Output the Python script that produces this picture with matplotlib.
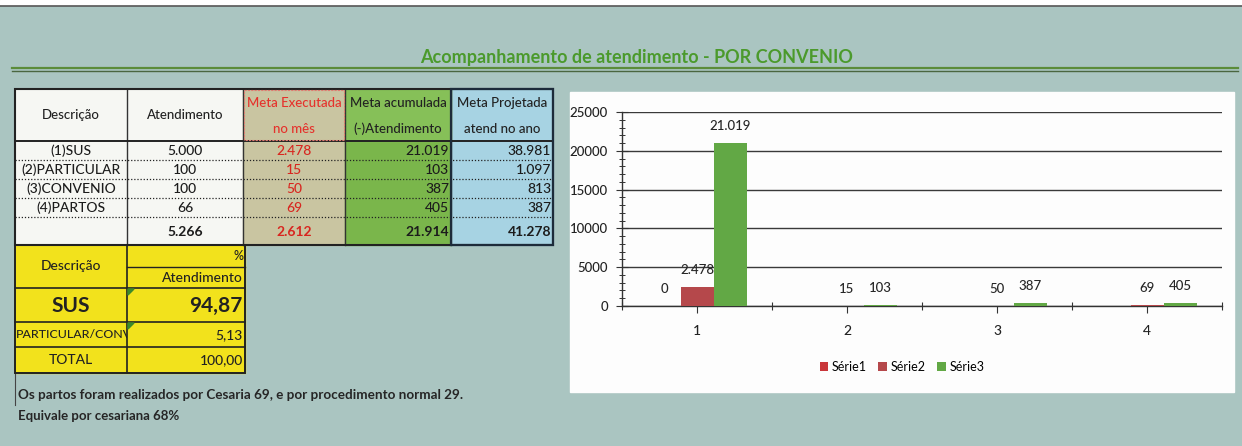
import numpy as np
import matplotlib.pyplot as plt
from matplotlib.patches import Rectangle, Polygon
from matplotlib.transforms import Bbox

plt.rcParams['font.family'] = ['Lato', 'DejaVu Sans']

# =========================================================================
# dados da planilha
titulo = 'Acompanhamento de atendimento - POR CONVENIO'

cabecalho = ['Descrição', 'Atendimento', 'Meta Executada\nno mês',
             'Meta acumulada\n(-)Atendimento', 'Meta Projetada\natend no ano']
descricao = ['(1)SUS', '(2)PARTICULAR', '(3)CONVENIO', '(4)PARTOS', '']
atendimento = ['5.000', '100', '100', '66', '5.266']
meta_executada = ['2.478', '15', '50', '69', '2.612']
meta_acumulada = ['21.019', '103', '387', '405', '21.914']
meta_projetada = ['38.981', '1.097', '813', '387', '41.278']

resumo_desc = ['SUS', 'PARTICULAR/CONV', 'TOTAL']
resumo_pct = ['94,87', '5,13', '100,00']

nota1 = 'Os partos foram realizados por Cesaria 69, e por procedimento normal 29.'
nota2 = 'Equivale por cesariana 68%'

# dados do grafico
categorias = ['1', '2', '3', '4']
serie1 = [0, np.nan, np.nan, np.nan]
serie2 = [2478, 15, 50, 69]
serie3 = [21019, 103, 387, 405]
series = {'Série1': serie1, 'Série2': serie2, 'Série3': serie3}
cores = {'Série1': '#c9363a', 'Série2': '#b5484b', 'Série3': '#62a845'}
# =========================================================================

W, H = 1242, 446
fig = plt.figure(figsize=(W / 100, H / 100), dpi=100)
fig.patch.set_facecolor('#aac5c1')

bg = fig.add_axes([0, 0, 1, 1])
bg.set_xlim(0, W)
bg.set_ylim(H, 0)
bg.axis('off')

# faixa branca do topo
bg.add_patch(Rectangle((0, 0), W, 5, color='white', zorder=1))
bg.plot([0, W], [5.5, 5.5], color='#555555', lw=1.2)

# titulo e linha dupla
bg.text(637, 58, titulo, ha='center', va='center', fontsize=13,
        fontweight='bold', color='#4b9a2c')
bg.plot([12, 1238], [68, 68], color='#5b8c3a', lw=1.6)
bg.plot([12, 1238], [71, 71], color='#4a6640', lw=1.0)

# ---------------- tabela principal ----------------
cols = [15, 127, 243, 345, 451, 553]
rows = [89, 141, 160, 179, 198, 217, 245]
fundo = ['#f6f7f3', '#f6f7f3', '#c9c5a1', '#7ab64b', '#a7d3e3']
for c in range(5):
    bg.add_patch(Rectangle((cols[c], rows[0]), cols[c + 1] - cols[c],
                           rows[-1] - rows[0], color=fundo[c], zorder=1))
bg.add_patch(Rectangle((cols[3], rows[0]), cols[4] - cols[3], rows[1] - rows[0],
                       color='#86c058', zorder=1))

# textos do cabecalho
for c, txt in enumerate(cabecalho):
    xm = (cols[c] + cols[c + 1]) / 2
    cor = '#e5322c' if c == 2 else '#222222'
    if '\n' in txt:
        l1, l2 = txt.split('\n')
        bg.text(xm, 103, l1, ha='center', va='center', fontsize=9.5, color=cor,
                fontweight='medium')
        bg.text(xm, 129, l2, ha='center', va='center', fontsize=9.5, color=cor,
                fontweight='medium')
    else:
        bg.text(xm, 115, txt, ha='center', va='center', fontsize=9.5, color=cor,
                fontweight='medium')

# linhas de dados
colunas = [descricao, atendimento, meta_executada, meta_acumulada, meta_projetada]
for r in range(5):
    ym = (rows[r + 1] + rows[r + 2]) / 2 + 0.5
    peso = 'bold' if r == 4 else 'medium'
    for c, col in enumerate(colunas):
        cor = '#d8261f' if c == 2 else '#1c1c1c'
        if c >= 3:
            bg.text(cols[c + 1] - 2, ym, col[r], ha='right', va='center',
                    fontsize=10, color=cor, fontweight=peso)
        else:
            bg.text((cols[c] + cols[c + 1]) / 2, ym, col[r], ha='center',
                    va='center', fontsize=10, color=cor, fontweight=peso)

# bordas
for yy in rows[2:-1]:
    bg.plot([cols[0], cols[-1]], [yy, yy], color='#222222', lw=0.9, ls=(0, (1, 1.5)))
for xx in cols[1:-1]:
    bg.plot([xx, xx], [rows[0], rows[-1]], color='#333333', lw=1.0)
bg.plot([cols[0], cols[-1]], [rows[1], rows[1]], color='#222222', lw=1.4)
bg.add_patch(Rectangle((cols[0], rows[0]), cols[-1] - cols[0], rows[-1] - rows[0],
                       fill=False, ec='#222222', lw=1.5, zorder=3))
bg.add_patch(Rectangle((cols[4], rows[0]), cols[5] - cols[4], rows[-1] - rows[0],
                       fill=False, ec='#1d2b3a', lw=1.6, zorder=3))
bg.add_patch(Rectangle((cols[2] + 1, rows[0] + 1), cols[3] - cols[2] - 2, rows[1] - rows[0] - 2,
                       fill=False, ec='#e07a70', lw=0.8, ls=(0, (2, 1)), zorder=3))

# ---------------- tabela amarela ----------------
ycols = [15, 127, 245]
yrows = [245, 288, 322, 347, 373]
bg.add_patch(Rectangle((ycols[0], yrows[0]), ycols[2] - ycols[0], yrows[-1] - yrows[0],
                       color='#f2e21c', zorder=1))
bg.text(71, 266, 'Descrição', ha='center', va='center', fontsize=10,
        color='#222222', fontweight='medium')
bg.text(243, 256, '%', ha='right', va='center', fontsize=9, color='#222222',
        fontweight='medium')
bg.text(243, 278, 'Atendimento', ha='right', va='center', fontsize=10,
        color='#222222', fontweight='medium')
tamanhos = [15, 8.9, 10]
pesos = ['bold', 'medium', 'medium']
for i in range(3):
    ym = (yrows[i + 1] + yrows[i + 2]) / 2 + 0.5
    if i == 1:
        t = bg.text(16, ym, resumo_desc[i], ha='left', va='center', fontsize=tamanhos[i],
                    fontweight=pesos[i], color='#222222')
        # texto cortado na borda da celula, como no Excel
        t.set_clip_box(Bbox.from_extents(ycols[0], H - yrows[i + 2],
                                         ycols[1], H - yrows[i + 1]))
        t.set_clip_on(True)
    else:
        bg.text(71, ym, resumo_desc[i], ha='center', va='center', fontsize=tamanhos[i],
                fontweight=pesos[i], color='#222222')
    bg.text(243, ym, resumo_pct[i], ha='right', va='center',
            fontsize=max(tamanhos[i], 10), fontweight=pesos[i], color='#222222')
for yy in yrows[1:-1]:
    bg.plot([ycols[0], ycols[2]], [yy, yy], color='#222222', lw=1.2)
bg.plot([ycols[1], ycols[2]], [267, 267], color='#222222', lw=1.0)
bg.plot([ycols[1], ycols[1]], [yrows[0], yrows[-1]], color='#222222', lw=1.2)
bg.add_patch(Rectangle((ycols[0], yrows[0]), ycols[2] - ycols[0], yrows[-1] - yrows[0],
                       fill=False, ec='#222222', lw=1.4, zorder=3))
for yy in [288, 322]:
    bg.add_patch(Polygon([(128, yy + 1), (134, yy + 1), (128, yy + 7)],
                         color='#3c8a2a', zorder=4))

# notas
bg.plot([15, 15], [373, 405], color='#444444', lw=0.8)
bg.text(18, 395, nota1, ha='left', va='center', fontsize=9.7, fontweight='bold',
        color='#262626')
bg.text(18, 416, nota2, ha='left', va='center', fontsize=9.5, fontweight='bold',
        color='#262626')

# ---------------- grafico ----------------
bg.add_patch(Rectangle((570, 92), 664, 300, color='#fdfdfd', zorder=1))

ax = fig.add_axes([622 / W, (H - 306) / H, 600 / W, 194 / H])
ax.patch.set_alpha(0)
x = np.arange(len(categorias))
larg = 0.22
for k, (nome, valores) in enumerate(series.items()):
    pos = x + (k - 1) * larg
    ax.bar(pos, valores, width=larg, color=cores[nome], label=nome, zorder=3)
    for xp, v in zip(pos, valores):
        if np.isnan(v):
            continue
        ax.annotate('{:,}'.format(int(v)).replace(',', '.'), (xp, v),
                    xytext=(0, 8), textcoords='offset points', ha='center',
                    va='bottom', fontsize=9.5, color='#262626', fontweight='medium')

ax.set_xlim(-0.5, 3.5)
ax.set_ylim(0, 25000)
ax.set_yticks(np.arange(0, 25001, 5000))
ax.set_yticks(np.arange(0, 25001, 1000), minor=True)
ax.set_xticks(x)
ax.set_xticklabels(categorias)
ax.set_xticks(np.arange(-0.5, 3.6, 1), minor=True)
ax.grid(axis='y', which='major', color='#3a3a3a', lw=1.0, zorder=0)
ax.tick_params(axis='y', which='major', direction='inout', length=8, width=0.8,
               labelsize=9.5, pad=6, colors='#333333', labelcolor='#222222')
ax.tick_params(axis='y', which='minor', direction='inout', length=5, width=0.7,
               colors='#333333')
ax.tick_params(axis='x', which='major', direction='out', length=5, width=0.8,
               labelsize=10, pad=9, colors='#333333', labelcolor='#222222')
ax.tick_params(axis='x', which='minor', direction='inout', length=6, width=0.8,
               colors='#333333')
for lbl in ax.get_xticklabels() + ax.get_yticklabels():
    lbl.set_fontweight('medium')
for s in ['top', 'right']:
    ax.spines[s].set_visible(False)
for s in ['left', 'bottom']:
    ax.spines[s].set_color('#333333')
    ax.spines[s].set_linewidth(1.0)

fig.legend(loc='center', bbox_to_anchor=(902 / W, (H - 367) / H), ncol=3,
           frameon=False, fontsize=9, handlelength=0.7, handleheight=0.7,
           handletextpad=0.3, columnspacing=0.9)

plt.savefig('out.png', dpi=100, facecolor=fig.get_facecolor())
plt.close()
